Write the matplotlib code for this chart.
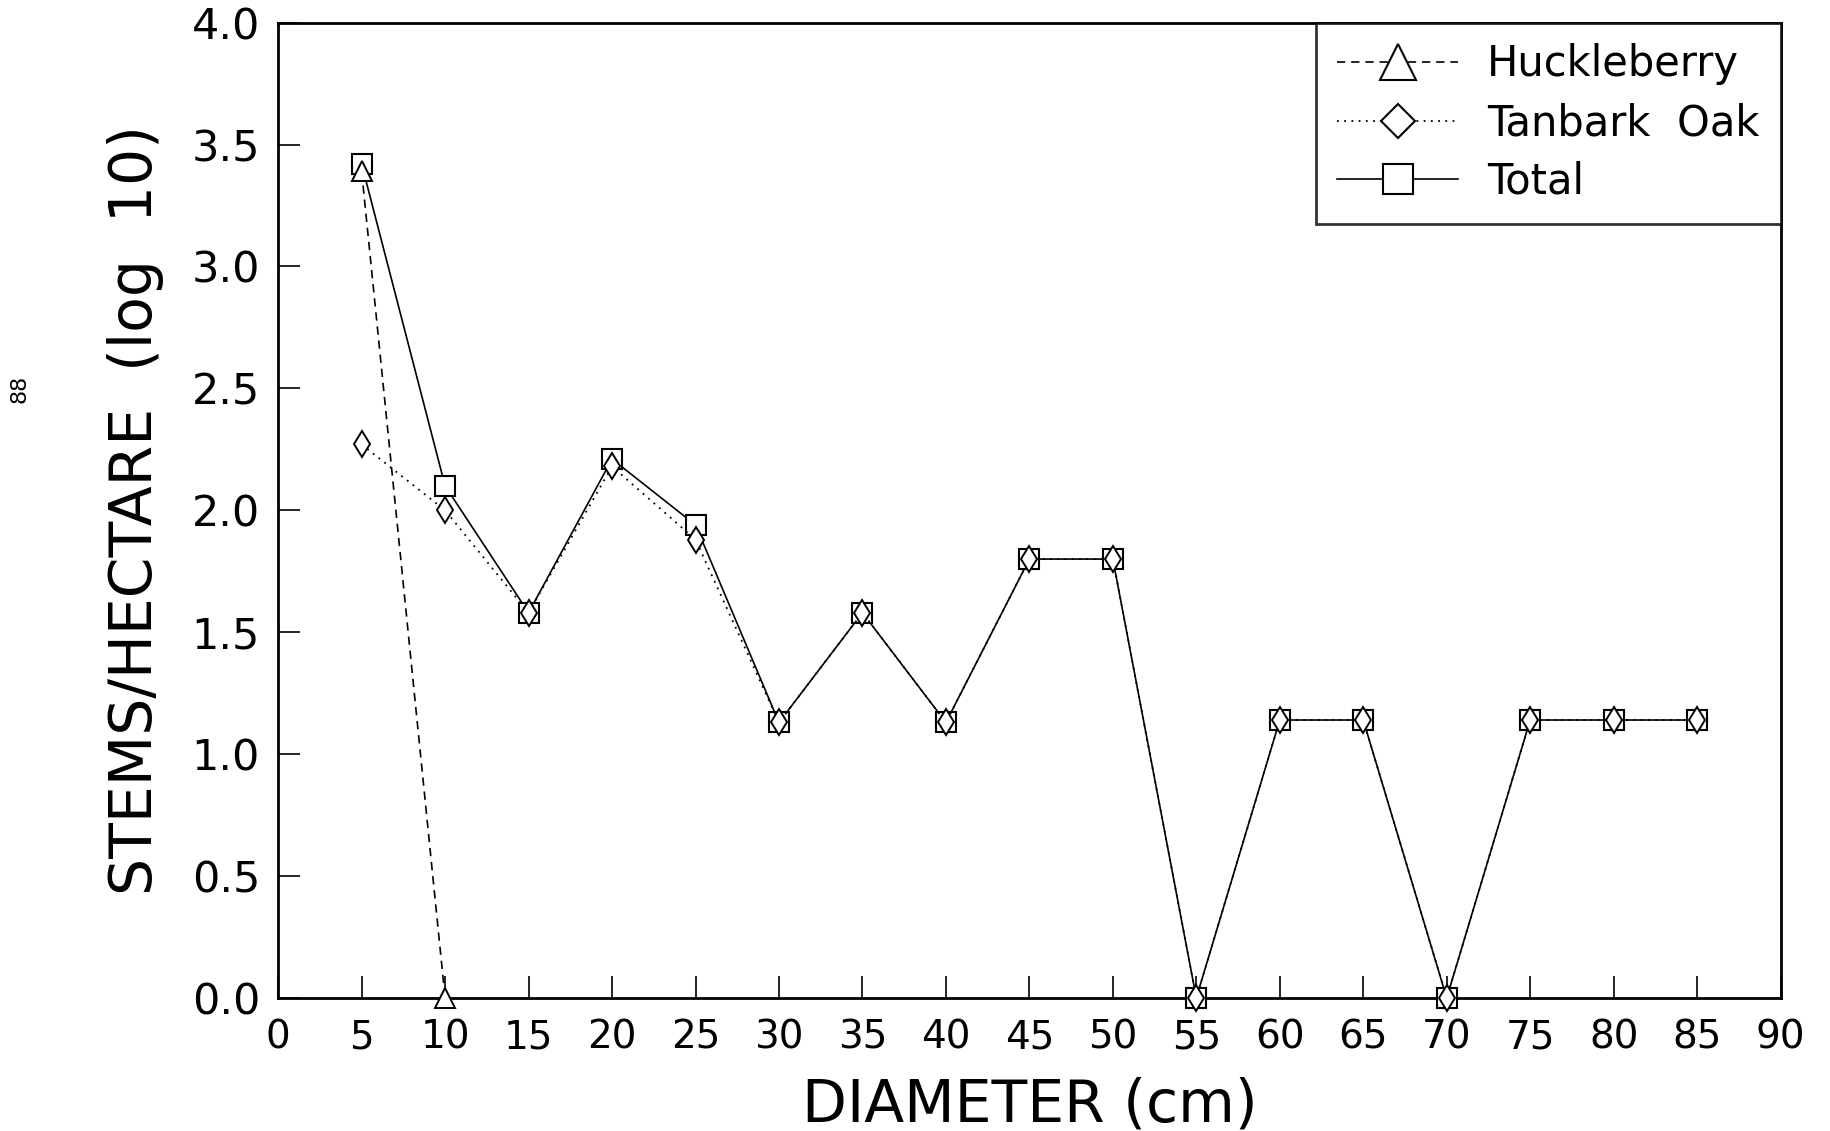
import matplotlib
matplotlib.use("Agg")
import matplotlib.pyplot as plt
from matplotlib.lines import Line2D

# ---- data ----
diam_huck = [5, 10]
huckleberry = [3.39, 0.0]

diam = [5, 10, 15, 20, 25, 30, 35, 40, 45, 50, 55, 60, 65, 70, 75, 80, 85]
tanbark_oak = [2.27, 2.00, 1.58, 2.18, 1.88, 1.13, 1.58, 1.13, 1.80, 1.80,
               0.00, 1.14, 1.14, 0.00, 1.14, 1.14, 1.14]
total = [3.42, 2.10, 1.58, 2.21, 1.94, 1.13, 1.58, 1.13, 1.80, 1.80,
         0.00, 1.14, 1.14, 0.00, 1.14, 1.14, 1.14]

xticks = list(range(0, 95, 5))
yticks = [0.0, 0.5, 1.0, 1.5, 2.0, 2.5, 3.0, 3.5, 4.0]
ytick_labels = [f"{v:.1f}" for v in yticks]

plt.rcParams['font.family'] = ['DejaVu Sans']

fig = plt.figure(figsize=(18.3, 11.31), dpi=100)
ax = fig.add_axes([0.152, 0.1176, 0.821, 0.8624])

ax.plot(diam, total, color='black', lw=1.2, ls='-', marker='s', ms=14.5,
        mfc='white', mec='black', mew=1.5, zorder=3, clip_on=False)
ax.plot(diam, tanbark_oak, color='black', lw=1.3, ls=(0, (1, 3)), marker='d', ms=13.5,
        mfc='white', mec='black', mew=1.4, zorder=4, clip_on=False)
ax.plot(diam_huck, huckleberry, color='black', lw=1.2, ls=(0, (5, 3.5)), marker='^', ms=14,
        mfc='white', mec='black', mew=1.4, zorder=5, clip_on=False)

ax.set_xlim(0, 90)
ax.set_ylim(0, 4.0)
ax.set_xticks(xticks)
ax.set_xticklabels([str(v) for v in xticks])
ax.set_yticks(yticks)
ax.set_yticklabels(ytick_labels)

ax.tick_params(axis='both', direction='in', length=16, width=1.2,
               top=False, right=False)
ax.tick_params(axis='x', labelsize=28, pad=15)
ax.tick_params(axis='y', labelsize=31, pad=13)
for s in ax.spines.values():
    s.set_linewidth(2.0)

ax.set_xlabel("DIAMETER (cm)", fontsize=42, labelpad=14)
ax.set_ylabel("STEMS/HECTARE  (log  10)", fontsize=42, labelpad=20)

handles = [
    Line2D([], [], color='black', lw=1.2, ls=(0, (5, 3.5)), marker='^', ms=26,
           mfc='white', mec='black', mew=1.5),
    Line2D([], [], color='black', lw=1.3, ls=(0, (1, 3)), marker='D', ms=17,
           mfc='white', mec='black', mew=1.5),
    Line2D([], [], color='black', lw=1.2, ls='-', marker='s', ms=22,
           mfc='white', mec='black', mew=1.5),
]
leg = ax.legend(handles, ["Huckleberry", "Tanbark  Oak", "Total"],
                loc='upper right', bbox_to_anchor=(1.0, 1.0), fontsize=30,
                handlelength=2.9, handletextpad=0.7, borderpad=0.5,
                labelspacing=0.4, frameon=True, fancybox=False,
                edgecolor='black', borderaxespad=0.0)
leg.get_frame().set_linewidth(2.0)

fig.text(0.0104, 0.656, "88", rotation=90, fontsize=16, ha='center', va='center')

fig.savefig("out.png", dpi=100)
